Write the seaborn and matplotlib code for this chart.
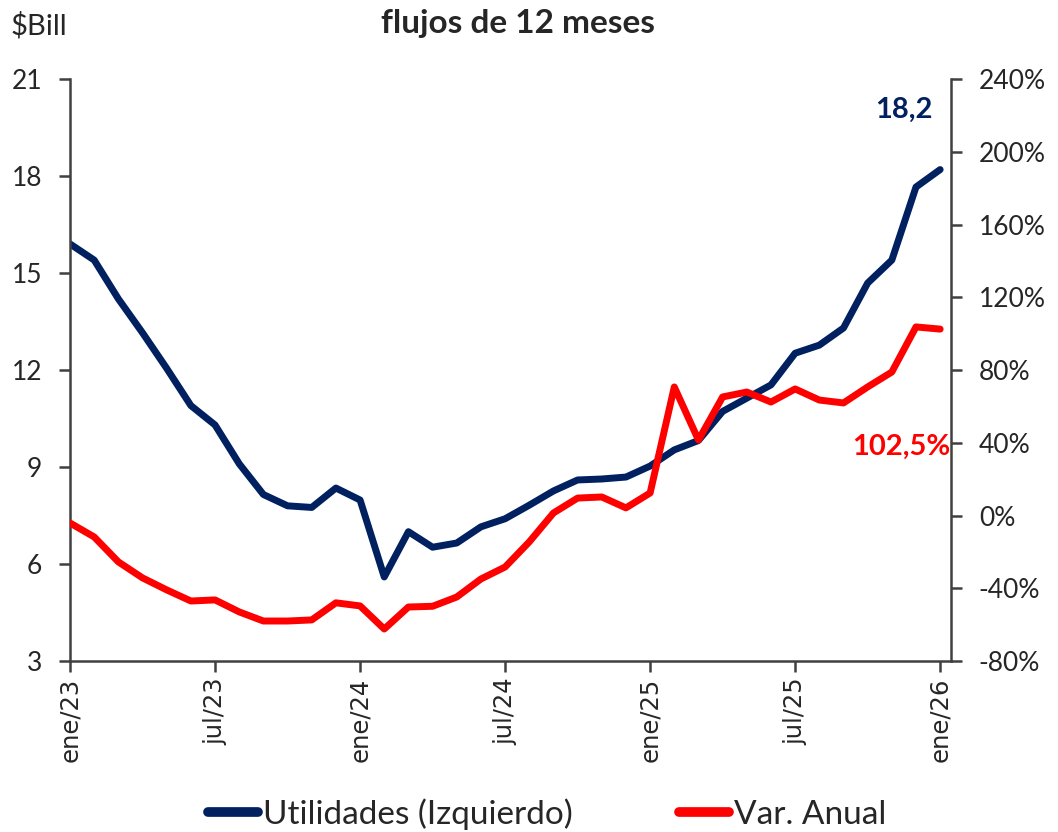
import numpy as np
import pandas as pd
import matplotlib
matplotlib.use("Agg")
import matplotlib.pyplot as plt
import seaborn as sns

# monthly, ene/23 .. ene/26
months = pd.date_range("2023-01-01", "2026-01-01", freq="MS")
utilidades = [15.9, 15.4, 14.2, 13.15, 12.05, 10.9, 10.3, 9.1, 8.15, 7.8,
              7.75, 8.35, 7.98, 5.6, 7.0, 6.52, 6.65, 7.15, 7.4, 7.82,
              8.26, 8.6, 8.63, 8.69, 9.03, 9.53, 9.82, 10.72, 11.13, 11.54,
              12.52, 12.77, 13.3, 14.69, 15.4, 17.66, 18.2]
var_anual = [-4.1, -11.8, -25.5, -34.3, -40.9, -47.0, -46.4, -53.0, -58.0, -58.0,
             -57.4, -48.0, -49.7, -62.4, -50.3, -49.9, -44.8, -34.9, -28.3, -14.5,
             1.4, 9.6, 10.2, 4.2, 12.4, 70.7, 41.5, 65.2, 67.9, 62.4,
             69.6, 63.5, 61.9, 70.7, 78.9, 103.7, 102.5]
tick_labels = ["ene/23", "jul/23", "ene/24", "jul/24", "ene/25", "jul/25", "ene/26"]

NAVY = "#002060"
RED = "#FF0000"

sns.set_style("white")
plt.rcParams['font.family'] = ['Lato', 'DejaVu Sans']

df = pd.DataFrame({"idx": np.arange(len(months)), "util": utilidades, "var": var_anual})

fig = plt.figure(figsize=(10.58, 8.32), dpi=100)
ax = fig.add_axes([0.0662, 0.2055, 0.8327, 0.6995])
ax2 = ax.twinx()

sns.lineplot(data=df, x="idx", y="util", ax=ax, color=NAVY, linewidth=5,
             label="Utilidades (Izquierdo)", legend=False)
sns.lineplot(data=df, x="idx", y="var", ax=ax2, color=RED, linewidth=5,
             label="Var. Anual", legend=False)

ax.set_xlim(0, 36.45)
ax.set_ylim(3, 21)
ax.set_yticks(np.arange(3, 22, 3))
ax2.set_ylim(-80, 240)
ax2.set_yticks(np.arange(-80, 241, 40))
ax2.set_yticklabels([f"{v}%" for v in range(-80, 241, 40)])

ax.set_xticks(np.arange(0, 37, 6))
ax.set_xticklabels(tick_labels, rotation=90, fontsize=17.5, family=['DejaVu Sans'])
ax.set_xlabel("")
ax.set_ylabel("")
ax2.set_ylabel("")

for a in (ax, ax2):
    for s in a.spines.values():
        s.set_color("#404040")
        s.set_linewidth(1.8)
    a.spines["top"].set_visible(False)
ax.spines["right"].set_visible(False)
ax2.spines["left"].set_visible(False)
ax2.spines["bottom"].set_visible(False)

ax.tick_params(axis="y", labelsize=19, length=8, width=1.8, color="#404040", left=True, pad=12)
ax.tick_params(axis="x", length=8, width=1.8, color="#404040", bottom=True, pad=4)
ax2.tick_params(axis="y", labelsize=19, length=8, width=1.8, color="#404040", right=True, pad=12)

fig.text(0.49, 0.972, "flujos de 12 meses", ha="center", va="center",
         fontsize=24, fontweight="bold")
fig.text(0.01, 0.969, "$Bill", ha="left", va="center", fontsize=21)

ax.annotate(f"{utilidades[-1]:.1f}".replace(".", ","), xy=(34.5, 20.04), color=NAVY,
            fontsize=21, fontweight="bold", ha="center", va="center")
ax2.annotate(f"{var_anual[-1]:.1f}%".replace(".", ","), xy=(34.4, 37.7), color=RED,
             fontsize=21, fontweight="bold", ha="center", va="center")

h1, l1 = ax.get_legend_handles_labels()
h2, l2 = ax2.get_legend_handles_labels()
leg = fig.legend(h1 + h2, l1 + l2, loc="center", bbox_to_anchor=(0.517, 0.022), ncol=2,
                 frameon=False, fontsize=24, handlelength=1.5, columnspacing=3.2,
                 handletextpad=0.15)
for line in leg.get_lines():
    line.set_linewidth(7)

fig.savefig("out.png", dpi=100)
